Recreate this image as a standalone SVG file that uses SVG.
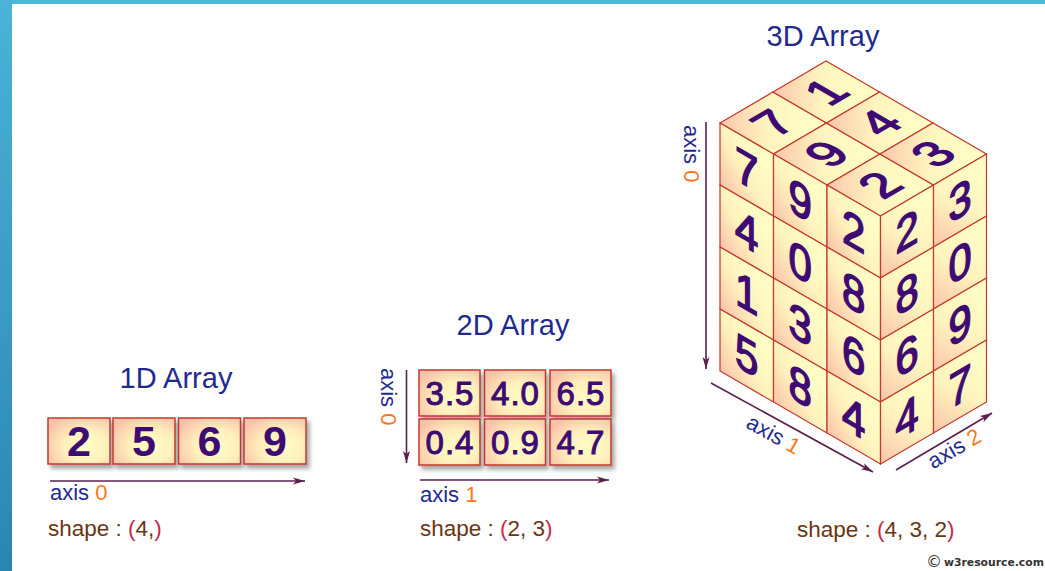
<svg xmlns="http://www.w3.org/2000/svg" width="1045" height="571" viewBox="0 0 1045 571">
<style>
.title{font-family:"Liberation Sans",Arial,sans-serif;font-size:29px;fill:#1f2a8f;text-anchor:middle}
.ax{font-family:"Liberation Sans",Arial,sans-serif;font-size:22px;fill:#1f2a8f}
.num{fill:#f47a1f}
.shape{font-family:"Liberation Sans",Arial,sans-serif;font-size:22.5px;fill:#6b3512}
.par{fill:#c22d4e}
.box{fill:url(#gBox);stroke:#c2382c;stroke-width:1.5}
.d1{font-family:"Liberation Sans",Arial,sans-serif;font-size:43px;font-weight:bold;fill:#3e0a73;text-anchor:middle}
.d2{font-family:"Liberation Sans",Arial,sans-serif;font-size:33px;fill:#3e0a73;stroke:#3e0a73;stroke-width:1;text-anchor:middle;letter-spacing:1px}
.cs{fill:url(#gSide);stroke:#c2382c;stroke-width:1.2;vector-effect:non-scaling-stroke}
.ct{fill:url(#gTop);stroke:#c2382c;stroke-width:1.2;vector-effect:non-scaling-stroke}
.d3{font-family:"Liberation Sans",Arial,sans-serif;font-size:47px;fill:#3e0a73;stroke:#3e0a73;stroke-width:1.5;text-anchor:middle}
.arr{stroke:#5a1f4c;stroke-width:1.6;fill:none;marker-end:url(#ah)}
</style>
<defs>
<linearGradient id="gLeft" x1="0" y1="0" x2="0" y2="1">
<stop offset="0" stop-color="#4bb2d8"/><stop offset="1" stop-color="#2a86b1"/>
</linearGradient>
<radialGradient id="gBox" cx="0.62" cy="0.62" r="0.72">
<stop offset="0" stop-color="#fffcc4"/><stop offset="0.5" stop-color="#fff0bc"/><stop offset="1" stop-color="#fbc2a9"/>
</radialGradient>
<linearGradient id="gSide" x1="0" y1="1" x2="0.8" y2="0.2">
<stop offset="0" stop-color="#fbc3aa"/><stop offset="0.55" stop-color="#fff2bd"/><stop offset="1" stop-color="#fffcc4"/>
</linearGradient>
<linearGradient id="gTop" x1="0" y1="0" x2="0.8" y2="0.8">
<stop offset="0" stop-color="#fbc6ab"/><stop offset="0.55" stop-color="#fff3be"/><stop offset="1" stop-color="#fffcc4"/>
</linearGradient>
<filter id="sh" x="-15%" y="-15%" width="140%" height="150%">
<feDropShadow dx="3" dy="4" stdDeviation="2" flood-color="#000" flood-opacity="0.35"/>
</filter>
<marker id="ah" viewBox="0 -5 13 10" refX="12" refY="0" markerWidth="13" markerHeight="10" markerUnits="userSpaceOnUse" orient="auto">
<path d="M0,-3.5 L12,0 L0,3.5 L3,0 Z" fill="#5a1f4c"/>
</marker>
</defs>

<rect x="0" y="0" width="1045" height="571" fill="#ffffff"/>
<rect x="0" y="0" width="1045" height="4" fill="#4fb7da"/>
<rect x="0" y="0" width="12" height="571" fill="url(#gLeft)"/>

<g id="array1d">
<text class="title" x="176" y="388">1D Array</text>
<g id="a1-0"><rect class="box" x="48" y="418" width="62" height="46" filter="url(#sh)"/><text class="d1" x="79" y="456">2</text></g>
<g id="a1-1"><rect class="box" x="113" y="418" width="62" height="46" filter="url(#sh)"/><text class="d1" x="144" y="456">5</text></g>
<g id="a1-2"><rect class="box" x="178.5" y="418" width="62" height="46" filter="url(#sh)"/><text class="d1" x="209.5" y="456">6</text></g>
<g id="a1-3"><rect class="box" x="244" y="418" width="62" height="46" filter="url(#sh)"/><text class="d1" x="275" y="456">9</text></g>
<text class="ax" x="50" y="500">axis <tspan class="num">0</tspan></text>
<text class="shape" x="48" y="536">shape : <tspan class="par">(</tspan>4,<tspan class="par">)</tspan></text>
</g>

<g id="array2d">
<text class="title" x="513" y="335">2D Array</text>
<g id="a2-00"><rect class="box" x="419" y="370" width="61" height="46" filter="url(#sh)"/><text class="d2" x="450" y="405">3.5</text></g>
<g id="a2-01"><rect class="box" x="484.5" y="370" width="61" height="46" filter="url(#sh)"/><text class="d2" x="515.5" y="405">4.0</text></g>
<g id="a2-02"><rect class="box" x="550" y="370" width="61" height="46" filter="url(#sh)"/><text class="d2" x="581" y="405">6.5</text></g>
<g id="a2-10"><rect class="box" x="419" y="419" width="61" height="46" filter="url(#sh)"/><text class="d2" x="450" y="454">0.4</text></g>
<g id="a2-11"><rect class="box" x="484.5" y="419" width="61" height="46" filter="url(#sh)"/><text class="d2" x="515.5" y="454">0.9</text></g>
<g id="a2-12"><rect class="box" x="550" y="419" width="61" height="46" filter="url(#sh)"/><text class="d2" x="581" y="454">4.7</text></g>
<text class="ax" transform="translate(381,368) rotate(90)">axis <tspan class="num">0</tspan></text>
<text class="ax" x="420" y="502">axis <tspan class="num">1</tspan></text>
<text class="shape" x="420" y="536">shape : <tspan class="par">(</tspan>2, 3<tspan class="par">)</tspan></text>
</g>

<g id="array3d">
<text class="title" x="823" y="46">3D Array</text>
<g id="top">
<g id="t-7" transform="matrix(0.8833,-0.5167,0.8917,0.5167,773.25,123)"><rect class="ct" x="-30" y="-30" width="60" height="60"/><text class="d3" x="0" y="16">7</text></g>
<g id="t-1" transform="matrix(0.8833,-0.5167,0.8917,0.5167,826.25,92)"><rect class="ct" x="-30" y="-30" width="60" height="60"/><text class="d3" x="0" y="16">1</text></g>
<g id="t-9" transform="matrix(0.8833,-0.5167,0.8917,0.5167,826.75,154)"><rect class="ct" x="-30" y="-30" width="60" height="60"/><text class="d3" x="0" y="16">9</text></g>
<g id="t-4" transform="matrix(0.8833,-0.5167,0.8917,0.5167,879.75,123)"><rect class="ct" x="-30" y="-30" width="60" height="60"/><text class="d3" x="0" y="16">4</text></g>
<g id="t-2" transform="matrix(0.8833,-0.5167,0.8917,0.5167,880.25,185)"><rect class="ct" x="-30" y="-30" width="60" height="60"/><text class="d3" x="0" y="16">2</text></g>
<g id="t-3" transform="matrix(0.8833,-0.5167,0.8917,0.5167,933.25,154)"><rect class="ct" x="-30" y="-30" width="60" height="60"/><text class="d3" x="0" y="16">3</text></g>
</g>
<g id="left">
<g id="l-00" transform="matrix(0.8917,0.5167,0,1.0333,746.75,169.5)"><rect class="cs" x="-30" y="-30" width="60" height="60"/><text class="d3" x="0" y="16">7</text></g>
<g id="l-10" transform="matrix(0.8917,0.5167,0,1.0333,746.75,231.5)"><rect class="cs" x="-30" y="-30" width="60" height="60"/><text class="d3" x="0" y="16">4</text></g>
<g id="l-20" transform="matrix(0.8917,0.5167,0,1.0333,746.75,293.5)"><rect class="cs" x="-30" y="-30" width="60" height="60"/><text class="d3" x="0" y="16">1</text></g>
<g id="l-30" transform="matrix(0.8917,0.5167,0,1.0333,746.75,355.5)"><rect class="cs" x="-30" y="-30" width="60" height="60"/><text class="d3" x="0" y="16">5</text></g>
<g id="l-01" transform="matrix(0.8917,0.5167,0,1.0333,800.25,200.5)"><rect class="cs" x="-30" y="-30" width="60" height="60"/><text class="d3" x="0" y="16">9</text></g>
<g id="l-11" transform="matrix(0.8917,0.5167,0,1.0333,800.25,262.5)"><rect class="cs" x="-30" y="-30" width="60" height="60"/><text class="d3" x="0" y="16">0</text></g>
<g id="l-21" transform="matrix(0.8917,0.5167,0,1.0333,800.25,324.5)"><rect class="cs" x="-30" y="-30" width="60" height="60"/><text class="d3" x="0" y="16">3</text></g>
<g id="l-31" transform="matrix(0.8917,0.5167,0,1.0333,800.25,386.5)"><rect class="cs" x="-30" y="-30" width="60" height="60"/><text class="d3" x="0" y="16">8</text></g>
<g id="l-02" transform="matrix(0.8917,0.5167,0,1.0333,853.75,231.5)"><rect class="cs" x="-30" y="-30" width="60" height="60"/><text class="d3" x="0" y="16">2</text></g>
<g id="l-12" transform="matrix(0.8917,0.5167,0,1.0333,853.75,293.5)"><rect class="cs" x="-30" y="-30" width="60" height="60"/><text class="d3" x="0" y="16">8</text></g>
<g id="l-22" transform="matrix(0.8917,0.5167,0,1.0333,853.75,355.5)"><rect class="cs" x="-30" y="-30" width="60" height="60"/><text class="d3" x="0" y="16">6</text></g>
<g id="l-32" transform="matrix(0.8917,0.5167,0,1.0333,853.75,417.5)"><rect class="cs" x="-30" y="-30" width="60" height="60"/><text class="d3" x="0" y="16">4</text></g>
</g>
<g id="right">
<g id="r-00" transform="matrix(0.8833,-0.5167,0,1.0333,907,231.5)"><rect class="cs" x="-30" y="-30" width="60" height="60"/><text class="d3" x="0" y="16">2</text></g>
<g id="r-10" transform="matrix(0.8833,-0.5167,0,1.0333,907,293.5)"><rect class="cs" x="-30" y="-30" width="60" height="60"/><text class="d3" x="0" y="16">8</text></g>
<g id="r-20" transform="matrix(0.8833,-0.5167,0,1.0333,907,355.5)"><rect class="cs" x="-30" y="-30" width="60" height="60"/><text class="d3" x="0" y="16">6</text></g>
<g id="r-30" transform="matrix(0.8833,-0.5167,0,1.0333,907,417.5)"><rect class="cs" x="-30" y="-30" width="60" height="60"/><text class="d3" x="0" y="16">4</text></g>
<g id="r-01" transform="matrix(0.8833,-0.5167,0,1.0333,960,200.5)"><rect class="cs" x="-30" y="-30" width="60" height="60"/><text class="d3" x="0" y="16">3</text></g>
<g id="r-11" transform="matrix(0.8833,-0.5167,0,1.0333,960,262.5)"><rect class="cs" x="-30" y="-30" width="60" height="60"/><text class="d3" x="0" y="16">0</text></g>
<g id="r-21" transform="matrix(0.8833,-0.5167,0,1.0333,960,324.5)"><rect class="cs" x="-30" y="-30" width="60" height="60"/><text class="d3" x="0" y="16">9</text></g>
<g id="r-31" transform="matrix(0.8833,-0.5167,0,1.0333,960,386.5)"><rect class="cs" x="-30" y="-30" width="60" height="60"/><text class="d3" x="0" y="16">7</text></g>
</g>
<text class="ax" transform="translate(684,125) rotate(90)">axis <tspan class="num">0</tspan></text>
<text class="ax" text-anchor="middle" transform="translate(770,441) rotate(29)">axis <tspan class="num">1</tspan></text>
<text class="ax" text-anchor="middle" transform="translate(958,455) rotate(-30)">axis <tspan class="num">2</tspan></text>
<text class="shape" x="797" y="537">shape : <tspan class="par">(</tspan>4, 3, 2<tspan class="par">)</tspan></text>
</g>

<g id="connectors">
<path class="arr" d="M50,481 L305,481"/>
<path class="arr" d="M420,480 L609,480"/>
<path class="arr" d="M406.5,370 L406.5,463"/>
<path class="arr" d="M706,122 L706,369"/>
<path class="arr" d="M711,383 L873,472"/>
<path class="arr" d="M896,470 L992,413"/>
</g>

<g id="credit">
<text x="926" y="567" font-family="DejaVu Sans,sans-serif" font-size="16" fill="#333">©</text>
<text x="944" y="566" font-family="DejaVu Sans,sans-serif" font-size="10.8" font-weight="bold" fill="#333">w3resource.com</text>
</g>
</svg>
